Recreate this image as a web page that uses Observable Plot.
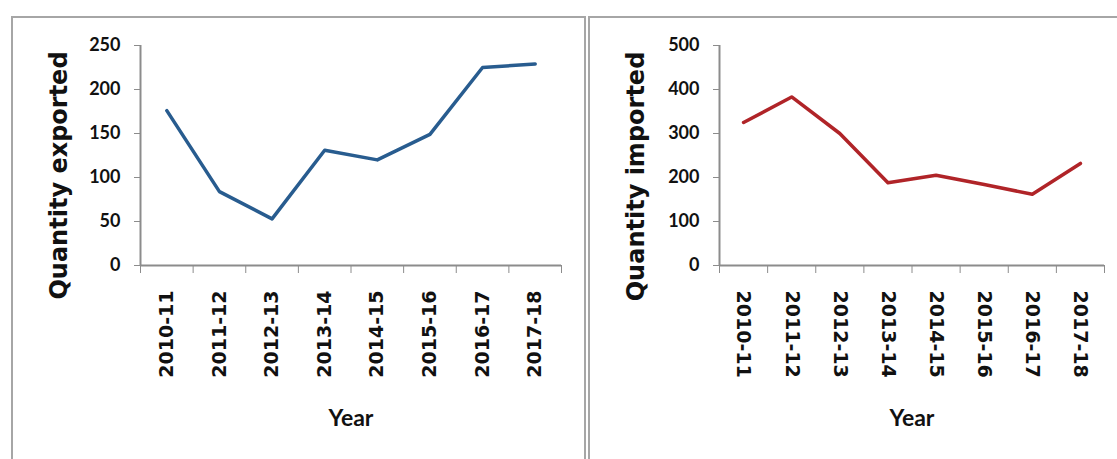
<!DOCTYPE html>
<html>
<head>
<meta charset="utf-8">
<script src="https://cdn.jsdelivr.net/npm/d3@7"></script>
<script src="https://cdn.jsdelivr.net/npm/@observablehq/plot@0.6"></script>
<style>
  html, body { margin: 0; padding: 0; background: #fff; }
  #page { position: relative; width: 1117px; height: 459px; overflow: hidden; background: #fff; }
  .chart { position: absolute; top: 0; }
  .panel { position: absolute; box-sizing: border-box; border: 2px solid #a6a6a6; background: transparent; pointer-events: none; }
</style>
</head>
<body>
<div id="page">
  <div id="left" class="chart" style="left:0px"></div>
  <div id="right" class="chart" style="left:588px"></div>
  <div class="panel" style="left:11px;top:16px;width:575px;height:480px"></div>
  <div class="panel" style="left:588px;top:16px;width:560px;height:480px"></div>
</div>
<script>
// Financial years on the horizontal axis
const years = ["2010-11", "2011-12", "2012-13", "2013-14", "2014-15", "2015-16", "2016-17", "2017-18"];

// Quantities per year
const exported = [176, 84, 53, 131, 120, 149, 225, 229];
const imported = [325, 383, 300, 188, 205, 184, 162, 232];

// Value axis ticks
const exportTicks = [0, 50, 100, 150, 200, 250];
const importTicks = [0, 100, 200, 300, 400, 500];

const axisGray = "#8c8c8c";
const ink = "#111";

// One line panel: categories sit in the middle of unit-wide slots, tick marks on the slot edges.
function linePanel({values, yTicks, color, title, width, marginLeft, marginRight, rotate, titleDx, titleDy}) {
  const rows = years.map((year, i) => ({year, pos: i + 0.5, value: values[i]}));
  const edges = d3.range(years.length + 1);
  return Plot.plot({
    width,
    height: 459,
    marginLeft,
    marginRight,
    marginTop: 45,
    marginBottom: 194,
    style: {fontFamily: "Lato, sans-serif", fontWeight: "bold", background: "transparent", maxWidth: "none", color: ink},
    x: {type: "linear", domain: [0, years.length], axis: null},
    y: {domain: [0, d3.max(yTicks)], axis: null},
    marks: [
      Plot.axisY({ticks: yTicks, tickSize: 6, tickPadding: 14, stroke: axisGray, fill: ink, fontSize: 18, label: null}),
      Plot.axisX({ticks: edges, tickSize: 8, tickFormat: () => "", stroke: axisGray, label: null}),
      Plot.axisX({
        ticks: rows.map((d) => d.pos),
        tickSize: 0,
        tickPadding: 25,
        tickRotate: rotate,
        tickFormat: (p) => years[Math.floor(p)],
        fontFamily: "DejaVu Sans",
        fontSize: 19,
        fill: ink,
        label: null
      }),
      Plot.ruleX([0], {stroke: axisGray, strokeWidth: 2}),
      Plot.ruleY([0], {stroke: axisGray, strokeWidth: 2}),
      Plot.line(rows, {x: "pos", y: "value", stroke: color, strokeWidth: 3.5, strokeLinejoin: "round"}),
      Plot.text([title], {
        frameAnchor: "left",
        textAnchor: "middle",
        lineAnchor: "middle",
        rotate: -90,
        dx: titleDx,
        dy: titleDy,
        fontFamily: "DejaVu Sans",
        fontSize: 24,
        fill: ink
      }),
      Plot.text(["Year"], {frameAnchor: "bottom", lineAnchor: "middle", dy: 153, fontSize: 23, fill: ink})
    ]
  });
}

document.getElementById("left").append(linePanel({
  values: exported,
  yTicks: exportTicks,
  color: "#285c8f",
  title: "Quantity exported",
  width: 586,
  marginLeft: 140,
  marginRight: 25,
  rotate: -90,
  titleDx: -81,
  titleDy: 20
}));

document.getElementById("right").append(linePanel({
  values: imported,
  yTicks: importTicks,
  color: "#b02428",
  title: "Quantity imported",
  width: 529,
  marginLeft: 131,
  marginRight: 13,
  rotate: 90,
  titleDx: -83,
  titleDy: 21
}));
</script>
</body>
</html>
